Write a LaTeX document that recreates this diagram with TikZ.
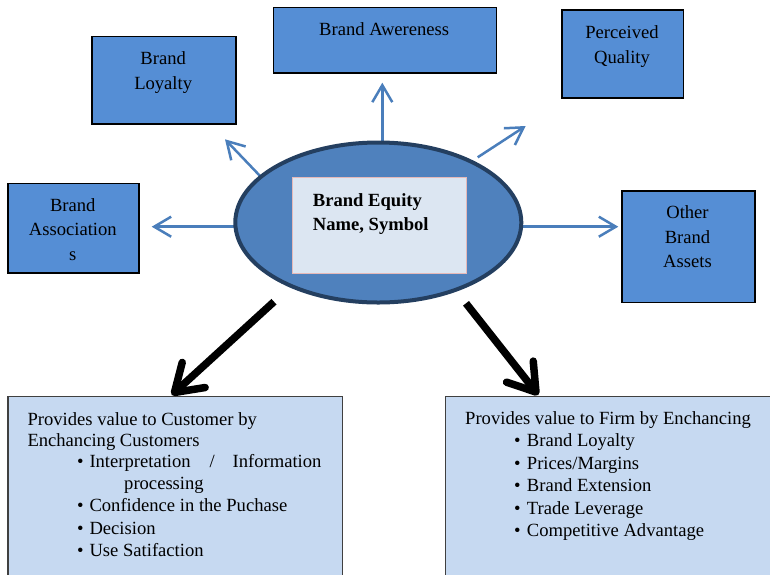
\documentclass[tikz,border=0pt]{standalone}
\usepackage{fontspec}
\setmainfont{Liberation Serif}
\usetikzlibrary{shapes.geometric,arrows.meta}

\definecolor{boxblue}{HTML}{558ED5}
\definecolor{ovalfill}{HTML}{4F81BD}
\definecolor{ovaledge}{HTML}{243F60}
\definecolor{namefill}{HTML}{DCE6F2}
\definecolor{nameedge}{HTML}{E6B9B8}
\definecolor{valuefill}{HTML}{C6D9F1}
\definecolor{valueedge}{HTML}{404040}
\definecolor{linkblue}{HTML}{4A7EBB}

\tikzset{
  assetbox/.style={draw=black, line width=1.6pt, fill=boxblue, inner sep=0pt,
    anchor=north west},
  valuebox/.style={draw=valueedge, line width=1.4pt, fill=valuefill, inner sep=0pt,
    anchor=north west},
  txt/.style={inner sep=0pt, font=\fontsize{18.6}{22}\selectfont},
  boldtxt/.style={txt, font=\fontsize{18.6}{22}\selectfont\bfseries},
  link/.style={draw=linkblue, line width=2.5pt,
    -{Straight Barb[length=17pt,width=20pt]}},
  bigarrow/.style={draw=black, line width=7.5pt,
    -{Straight Barb[length=26pt,width=34pt,round]}}
}

\begin{document}
\begin{tikzpicture}[x=1pt,y=-1pt]
  \useasboundingbox (0,0) rectangle (770,574);
  \clip (0,0) rectangle (770,574);

  % outer brand-asset boxes
  \node[assetbox, minimum width=144.3, minimum height=87.3] (loyal) at (91,35.7) {};
  \node[assetbox, minimum width=223, minimum height=65.3] (aware) at (272.7,6.7) {};
  \node[assetbox, minimum width=121.4, minimum height=87.7] (qual) at (561.3,9.3) {};
  \node[assetbox, minimum width=131, minimum height=89.6] (assoc) at (7.3,182.7) {};
  \node[assetbox, minimum width=133, minimum height=111.7] (other) at (621,190) {};

  \node[txt, anchor=base] (loyal1) at (163.2,64.3) {Brand};
  \node[txt, anchor=base] (loyal2) at (163.2,89.3) {Loyalty};
  \node[txt, anchor=base] (aware1) at (384.2,35) {Brand Awereness};
  \node[txt, anchor=base] (qual1) at (622,38.3) {Perceived};
  \node[txt, anchor=base] (qual2) at (622,63.3) {Quality};
  \node[txt, anchor=base] (assoc1) at (72.8,211) {Brand};
  \node[txt, anchor=base] (assoc2) at (72.8,235.7) {Association};
  \node[txt, anchor=base] (assoc3) at (72.8,260.7) {s};
  \node[txt, anchor=base] (other1) at (687.5,218.3) {Other};
  \node[txt, anchor=base] (other2) at (687.5,243.3) {Brand};
  \node[txt, anchor=base] (other3) at (687.5,267.8) {Assets};

  % arrow end points
  \coordinate (lS) at (240,226.7);   \coordinate (lE) at (151.7,226.7);
  \coordinate (ulS) at (262,178);    \coordinate (ulE) at (225,139.3);
  \coordinate (uS) at (382.3,142);   \coordinate (uE) at (382.3,82.7);
  \coordinate (urS) at (477.7,157.3);\coordinate (urE) at (525.7,126);
  \coordinate (rS) at (518,226.7);   \coordinate (rE) at (618.3,226.7);
  \coordinate (dlS) at (274,301.7);  \coordinate (dlE) at (171.7,395);
  \coordinate (drS) at (466,303.3);  \coordinate (drE) at (538.3,395);

  \draw[link] (lS) -- (lE);
  \draw[link] (ulS) -- (ulE);
  \draw[link] (uS) -- (uE);
  \draw[link] (urS) -- (urE);
  \draw[link] (rS) -- (rE);

  % central oval with the brand name panel
  \node[ellipse, draw=ovaledge, line width=4pt, fill=ovalfill, inner sep=0pt,
        minimum width=286, minimum height=160] (equity) at (378.3,222.5) {};
  \node[draw=nameedge, line width=1pt, fill=namefill, inner sep=0pt, anchor=north west,
        minimum width=174, minimum height=95.4] (name) at (291.7,177.3) {};
  \node[boldtxt, anchor=base west] (name1) at (312.7,206) {Brand Equity};
  \node[boldtxt, anchor=base west] (name2) at (312.7,230.7) {Name, Symbol};

  % value boxes
  \node[valuebox, minimum width=334.4, minimum height=200] (cust) at (7.3,396) {};
  \node[valuebox, minimum width=340, minimum height=200] (firm) at (445,396) {};

  \draw[bigarrow] (dlS) -- (dlE);
  \draw[bigarrow] (drS) -- (drE);

  % customer value text
  \node[txt, anchor=base west] (c1) at (27.3,425) {Provides value to Customer by};
  \node[txt, anchor=base west] (c2) at (27.3,446.3) {Enchancing Customers};
  \node[txt, anchor=base] (cb1) at (80.3,467.7) {•};
  \node[txt, anchor=base west] (c3a) at (89.3,467.7) {Interpretation};
  \node[txt, anchor=base west] (c3b) at (209.5,467.7) {/};
  \node[txt, anchor=base east] (c3c) at (321.7,467.7) {Information};
  \node[txt, anchor=base west] (c4) at (124,489.3) {processing};
  \node[txt, anchor=base] (cb2) at (80.3,511.7) {•};
  \node[txt, anchor=base west] (c5) at (89.3,511.7) {Confidence in the Puchase};
  \node[txt, anchor=base] (cb3) at (80.3,534.3) {•};
  \node[txt, anchor=base west] (c6) at (89.3,534.3) {Decision};
  \node[txt, anchor=base] (cb4) at (80.3,556.7) {•};
  \node[txt, anchor=base west] (c7) at (89.3,556.7) {Use Satifaction};

  % firm value text
  \node[txt, anchor=base west] (f1) at (465,424.3) {Provides value to Firm by Enchancing};
  \node[txt, anchor=base] (fb1) at (517.3,446.7) {•};
  \node[txt, anchor=base west] (f2) at (526.7,446.7) {Brand Loyalty};
  \node[txt, anchor=base] (fb2) at (517.3,469) {•};
  \node[txt, anchor=base west] (f3) at (526.7,469) {Prices/Margins};
  \node[txt, anchor=base] (fb3) at (517.3,491.7) {•};
  \node[txt, anchor=base west] (f4) at (526.7,491.7) {Brand Extension};
  \node[txt, anchor=base] (fb4) at (517.3,514) {•};
  \node[txt, anchor=base west] (f5) at (526.7,514) {Trade Leverage};
  \node[txt, anchor=base] (fb5) at (517.3,536.7) {•};
  \node[txt, anchor=base west] (f6) at (526.7,536.7) {Competitive Advantage};
\end{tikzpicture}
\end{document}
